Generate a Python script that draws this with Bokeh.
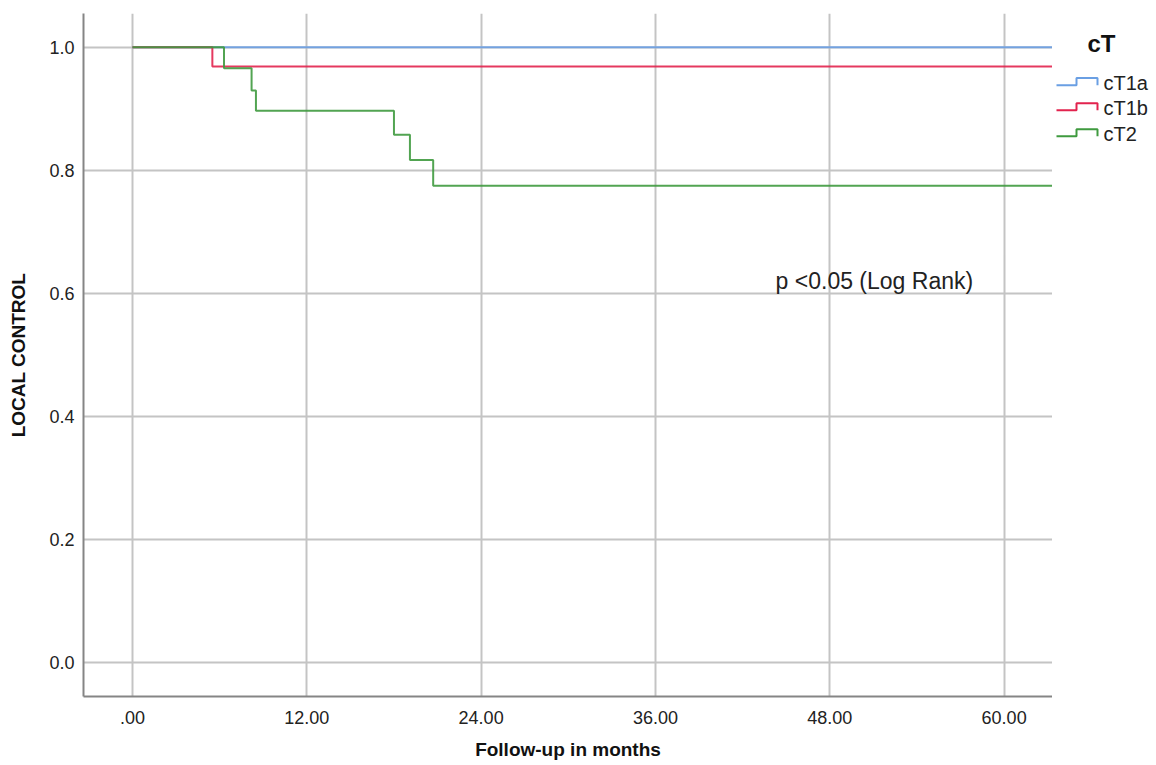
from bokeh.plotting import figure
from bokeh.layouts import row
from bokeh.models import Range1d, FixedTicker, Label
from bokeh.embed import file_html
from bokeh.resources import INLINE

# ---------------- data ----------------
groups = ["cT1a", "cT1b", "cT2"]
colors = ["#6a9fe3", "#e2234e", "#3f9a3f"]

t_ct1a = [0.0, 63.3]
s_ct1a = [1.0, 1.0]

t_ct1b = [0.0, 5.5, 63.3]
s_ct1b = [1.0, 0.969, 0.969]

t_ct2 = [0.0, 6.3, 8.2, 8.5, 18.0, 19.1, 20.7, 63.3]
s_ct2 = [1.0, 0.966, 0.930, 0.897, 0.858, 0.817, 0.775, 0.775]

x_ticks = [0, 12, 24, 36, 48, 60]
x_tick_labels = [".00", "12.00", "24.00", "36.00", "48.00", "60.00"]
y_ticks = [0.0, 0.2, 0.4, 0.6, 0.8, 1.0]
y_tick_labels = ["0.0", "0.2", "0.4", "0.6", "0.8", "1.0"]

x_title = "Follow-up in months"
y_title = "LOCAL CONTROL"
legend_title = "cT"
note_text = "p <0.05 (Log Rank)"

FONT = "Liberation Sans"
H = 762

# ---------------- main plot ----------------
p = figure(width=1052, height=H, output_backend="svg", toolbar_location=None,
           x_range=Range1d(-3.37, 63.33), y_range=Range1d(-0.055, 1.055),
           min_border_left=83, min_border_right=0, min_border_top=13,
           min_border_bottom=61)
p.outline_line_color = None
p.background_fill_color = "white"

for ax in (p.xaxis, p.yaxis):
    ax.axis_line_color = "#858585"
    ax.axis_line_width = 2
    ax.major_tick_out = 0
    ax.major_tick_in = 0
    ax.minor_tick_out = 0
    ax.minor_tick_in = 0
    ax.major_label_text_font = FONT
    ax.major_label_text_font_size = "18px"
    ax.major_label_text_color = "#222222"
    ax.axis_label_text_font = FONT
    ax.axis_label_text_font_size = "19px"
    ax.axis_label_text_font_style = "bold"
    ax.axis_label_text_color = "#111111"

p.xaxis.ticker = FixedTicker(ticks=x_ticks)
p.xaxis.major_label_overrides = {t: l for t, l in zip(x_ticks, x_tick_labels)}
p.yaxis.ticker = FixedTicker(ticks=y_ticks)
p.yaxis.major_label_overrides = {t: l for t, l in zip(y_ticks, y_tick_labels)}
p.xaxis.axis_label = x_title
p.yaxis.axis_label = y_title
p.xaxis.major_label_standoff = 14
p.xaxis.axis_label_standoff = 12
p.yaxis.major_label_standoff = 9
p.yaxis.axis_label_standoff = 17

for g in (p.xgrid, p.ygrid):
    g.grid_line_color = "#c4c4c4"
    g.grid_line_width = 2
p.xgrid.ticker = FixedTicker(ticks=x_ticks)
p.ygrid.ticker = FixedTicker(ticks=y_ticks)

series = [(t_ct1a, s_ct1a), (t_ct1b, s_ct1b), (t_ct2, s_ct2)]
for (t, s), c in zip(series, colors):
    p.step(t, s, mode="after", line_color=c, line_width=2, line_alpha=0.9)

p.add_layout(Label(x=44.27, y=0.621, text=note_text, text_font=FONT,
                   text_font_size="23px", text_color="#222222",
                   text_baseline="middle", text_align="left"))

# ---------------- legend panel ----------------
LW = 100
lg = figure(width=LW, height=H, output_backend="svg", toolbar_location=None,
            x_range=Range1d(0, LW), y_range=Range1d(H, 0),
            min_border=0)
lg.axis.visible = False
lg.grid.visible = False
lg.outline_line_color = None

lg.add_layout(Label(x=49, y=34, text=legend_title, text_font=FONT,
                    text_font_size="24px", text_font_style="bold",
                    text_color="#111111", text_align="center",
                    text_baseline="middle"))

row_y = [80, 108, 137]
for g, c, yy in zip(groups, colors, row_y):
    xs = [4, 24, 24, 45, 45]
    ys = [yy, yy, yy - 8, yy - 8, yy]
    lg.line(xs, ys, line_color=c, line_width=2)
    lg.add_layout(Label(x=51, y=yy - 3, text=g, text_font=FONT,
                        text_font_size="20px", text_color="#222222",
                        text_align="left", text_baseline="middle"))

layout = row(p, lg)
open("out.html", "w").write(file_html(layout, INLINE))
